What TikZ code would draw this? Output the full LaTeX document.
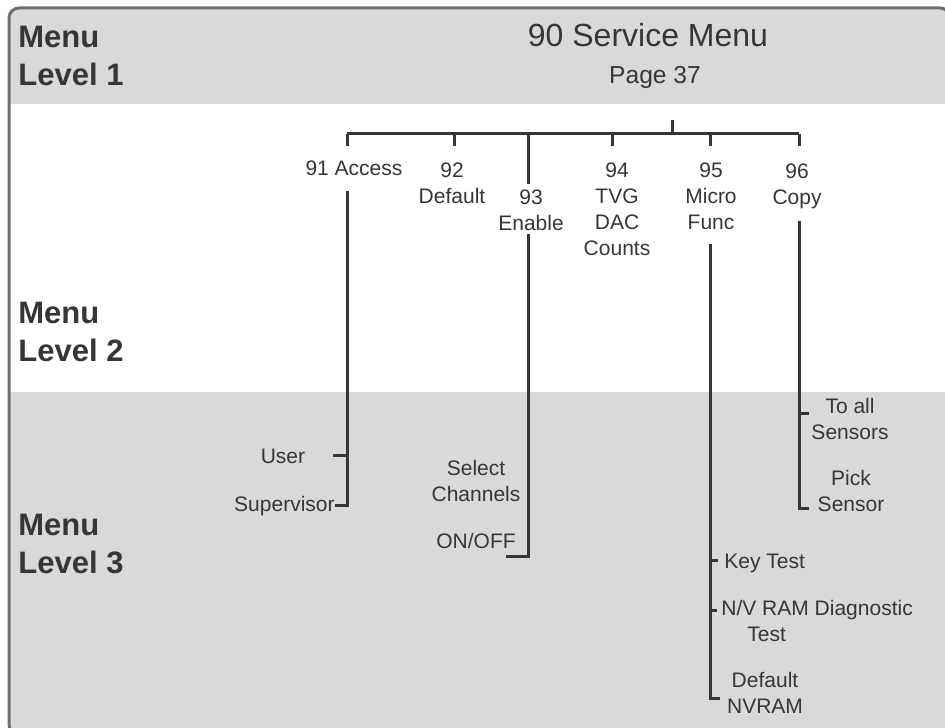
\documentclass[tikz,border=0pt]{standalone}
\usepackage{fontspec}
\setmainfont{Liberation Sans}
\definecolor{ink}{HTML}{363638}
\definecolor{band}{HTML}{D8D9DB}
\definecolor{rim}{HTML}{6E6E70}
\begin{document}
\begin{tikzpicture}
  [x=0.5pt,y=-0.5pt,
   every node/.style={inner sep=0pt,text=ink,align=center,anchor=base,font=\fontsize{10.5}{13}\selectfont},
   lvltext/.style={align=left,anchor=base west,font=\bfseries\fontsize{15.5}{19}\selectfont},
   treeline/.style={draw=ink,line width=1.5pt,line join=miter}]
  \useasboundingbox (0,0) rectangle (945,727);
  % bands and frame
  \begin{scope}
    \clip[rounded corners=5pt] (9,8) rectangle (950,735);
    \fill[band] (0,0) rectangle (950,104);
    \fill[white] (0,104) rectangle (950,392);
    \fill[band] (0,392) rectangle (950,740);
  \end{scope}
  \draw[rim,line width=1.5pt,rounded corners=5pt] (9,8) rectangle (950,735);

  % menu levels (anchored on the last line)
  \node[lvltext] (lv1) at (18,86) {Menu\\Level 1};
  \node[lvltext] (lv2) at (18,361) {Menu\\Level 2};
  \node[lvltext] (lv3) at (18,573) {Menu\\Level 3};

  % level 1
  \node[font=\fontsize{16}{19}\selectfont] (svc) at (648,47) {90 Service Menu};
  \node[font=\fontsize{12.3}{15}\selectfont] (page) at (655,84) {Page 37};

  % level 2
  \node (acc) at (354,176) {91 Access};
  \node (dft) at (452,203) {92\\Default};
  \node (enb) at (531,230) {93\\Enable};
  \node (tvg) at (617,255) {94\\TVG\\DAC\\Counts};
  \node (mic) at (711,229) {95\\Micro\\Func};
  \node (cpy) at (797,204) {96\\Copy};

  % level 3
  \node (user) at (283,463) {User};
  \node[anchor=base east] (sup) at (335,511) {Supervisor};
  \node (sel) at (476,501) {Select\\Channels};
  \node (onoff) at (476,548) {ON/OFF};
  \node (toall) at (850,439) {To all\\Sensors};
  \node (pick) at (851,511) {Pick\\Sensor};
  \node[anchor=base west] (key) at (724,568) {Key Test};
  \node[anchor=base west,align=left] (nvd) at (721,641) {N/V RAM Diagnostic\\\hspace{13pt}Test};
  \node (dnv) at (765,713) {Default\\NVRAM};

  % tree skeleton
  \coordinate (root) at (672,120);
  \coordinate (bus) at (672,134);
  \coordinate (t91) at (347,146);
  \coordinate (t92) at (454,146);
  \coordinate (t93) at (528,184);
  \coordinate (t94) at (612,146);
  \coordinate (t95) at (710,146);
  \coordinate (t96) at (799,146);
  \coordinate (s91) at (347,191);
  \coordinate (s93) at (528,234);
  \coordinate (s95) at (710,244);
  \coordinate (s96) at (799,221);
  \coordinate (e91) at (347,505);
  \coordinate (e93) at (528,556);
  \coordinate (e95) at (710,698);
  \coordinate (e96) at (799,508);

  \draw[treeline] (root) -- (bus);
  \draw[treeline] (t91 |- bus) -- (t96 |- bus);
  \foreach \t in {t91,t92,t93,t94,t95,t96}
    \draw[treeline] (\t |- bus) -- (\t);

  \draw[treeline] (s91) -- (e91) -- (sup.east |- e91);
  \draw[treeline] ([xshift=13.5pt]user.east) -- (user.east -| s91);
  \draw[treeline] (s93) -- (e93) -- ++(-22,0);
  \draw[treeline] (s95) -- (e95) -- ++(10,0);
  \draw[treeline] (s95 |- 0,560) -- ++(8,0);
  \draw[treeline] (s95 |- 0,610) -- ++(7,0);
  \draw[treeline] (s96) -- (e96) -- ++(10,0);
  \draw[treeline] (s96 |- 0,413) -- ++(10,0);
\end{tikzpicture}
\end{document}
